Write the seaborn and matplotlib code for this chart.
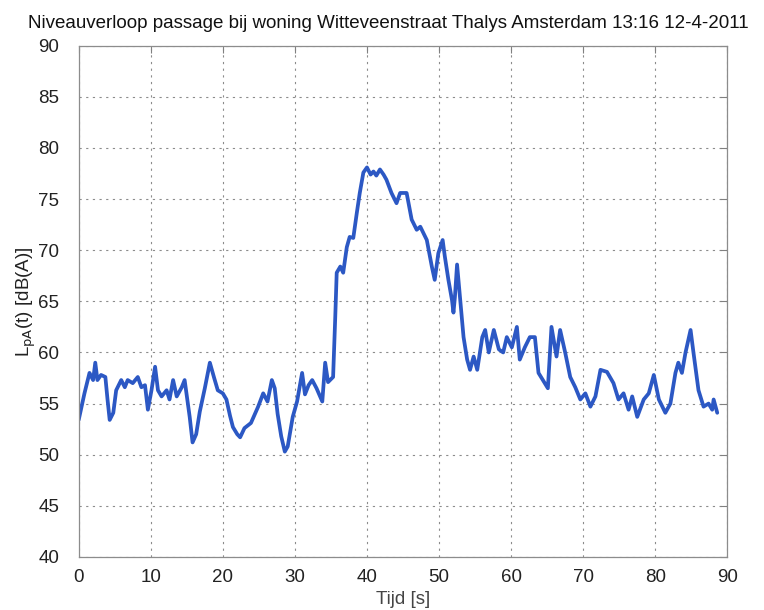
import pandas as pd
import seaborn as sns
from matplotlib import pyplot as plt

# level trace
tijd = [0.0, 0.8, 1.5, 2.0, 2.3, 2.6, 3.1, 3.7, 4.0, 4.3, 4.8, 5.2, 5.9, 6.4, 6.8,
        7.5, 8.2, 8.7, 9.2, 9.6, 10.1, 10.6, 11.0, 11.5, 12.2, 12.6, 13.1, 13.6,
        14.3, 14.7, 15.4, 15.8,
        16.3, 16.8, 17.5, 18.2, 18.8, 19.3, 20.0, 20.5, 21.0, 21.4, 22.0, 22.4,
        23.0, 23.9, 24.9, 25.6, 26.2, 26.8, 27.2, 27.6, 28.1, 28.6, 29.0, 29.7,
        30.3, 31.0, 31.4, 31.9, 32.4, 33.0, 33.8, 34.2, 34.6, 35.3, 35.6, 35.8,
        36.3, 36.7, 37.2, 37.6, 38.1, 38.6, 39.0, 39.5, 40.0, 40.5, 40.9, 41.3,
        41.8, 42.3, 42.7, 43.4, 44.1, 44.6, 45.5, 46.2, 46.9,
        47.4, 48.3, 49.0, 49.4, 49.9, 50.5, 50.8, 51.3, 51.8, 52.0, 52.2, 52.5,
        52.9, 53.4, 53.9, 54.3, 54.8, 55.3, 56.0, 56.4, 56.9, 57.6, 58.3, 58.9,
        59.4, 60.1, 60.8,
        61.2, 61.9, 62.6, 63.3, 63.8, 64.4, 65.1, 65.6, 66.3, 66.8, 67.5, 68.2,
        68.9, 69.6, 70.3, 71.0, 71.7, 72.4, 73.3, 74.2, 74.9, 75.6, 76.3, 76.8,
        77.5, 78.4, 79.1, 79.8, 80.5, 81.4, 82.1, 82.8, 83.2, 83.7, 84.2, 84.9,
        85.3, 86.0, 86.7, 87.4, 87.9, 88.1, 88.6]
lpa = [53.4, 56.0, 58.0, 57.3, 59.0, 57.3, 57.8, 57.6, 55.4, 53.4, 54.1, 56.3, 57.3,
       56.6, 57.3, 57.0, 57.6, 56.6, 56.8, 54.4, 56.3, 58.6, 56.3, 55.7, 56.3, 55.4,
       57.3, 55.7, 56.6, 57.3, 53.7, 51.2,
       52.0, 54.2, 56.5, 59.0, 57.5, 56.3, 56.0, 55.4, 53.8, 52.7, 52.0, 51.7,
       52.6, 53.1, 54.7, 56.0, 55.2, 57.3, 56.5, 54.0, 51.8, 50.3, 50.8, 53.7,
       55.2, 58.0, 55.9, 56.8, 57.3, 56.5, 55.2, 59.0, 57.1, 57.6, 63.5, 67.8,
       68.4, 67.8, 70.3, 71.3, 71.2, 73.7, 75.6, 77.6, 78.1, 77.4, 77.7, 77.3,
       77.9, 77.4, 76.9, 75.6, 74.6, 75.6, 75.6, 73.0, 72.0,
       72.3, 71.0, 68.4, 67.1, 69.7, 71.0, 69.4, 67.1, 65.1, 63.9, 65.4, 68.6,
       65.4, 61.5, 59.3, 58.3, 59.6, 58.3, 61.5, 62.2, 60.0, 62.2, 60.3, 60.0,
       61.5, 60.5, 62.5,
       59.3, 60.5, 61.5, 61.5, 58.0, 57.3, 56.5, 62.5, 59.6, 62.2, 60.0, 57.6,
       56.6, 55.4, 56.0, 54.7, 55.7, 58.3, 58.1, 57.0, 55.4, 56.0, 54.4, 55.7,
       53.7, 55.4, 56.0, 57.8, 55.4, 54.1, 55.0, 58.0, 59.0, 58.0, 60.0, 62.2,
       60.0, 56.3, 54.7, 55.0, 54.4, 55.4, 54.1]

xticks = list(range(0, 91, 10))
yticks = list(range(40, 91, 5))

df = pd.DataFrame({'t': tijd, 'L': lpa})

sns.set_style('white')
plt.rcParams['font.family'] = ['Liberation Sans', 'DejaVu Sans']

fig = plt.figure(figsize=(7.64, 6.10), dpi=100)
ax = fig.add_axes([0.103, 0.087, 0.849, 0.838])

sns.lineplot(data=df, x='t', y='L', ax=ax, color='#2c58c4', linewidth=2.7)

ax.set_xlim(0, 90)
ax.set_ylim(40, 90)
ax.set_xticks(xticks)
ax.set_yticks(yticks)
ax.grid(True, linestyle=(0, (2, 4)), color='0.55', linewidth=0.8)
ax.tick_params(direction='in', top=True, right=True, length=5, width=0.8,
               color='0.5', labelsize=13.5, labelcolor='#222222')
ax.tick_params(axis='y', pad=14)
ax.tick_params(axis='x', pad=9)
for s in ax.spines.values():
    s.set_color('0.55')
    s.set_linewidth(0.9)

ax.set_xlabel('Tijd [s]', fontsize=13.5, color='#444444', labelpad=3)
ax.set_ylabel(r'L$_{\mathrm{pA}}$(t) [dB(A)]', fontsize=13.5, color='#222222', labelpad=0)
ax.set_title('Niveauverloop passage bij woning Witteveenstraat Thalys Amsterdam 13:16 12-4-2011',
             fontsize=13.5, color='#111111', pad=13, x=0.477)

fig.savefig('out.png', dpi=100)
